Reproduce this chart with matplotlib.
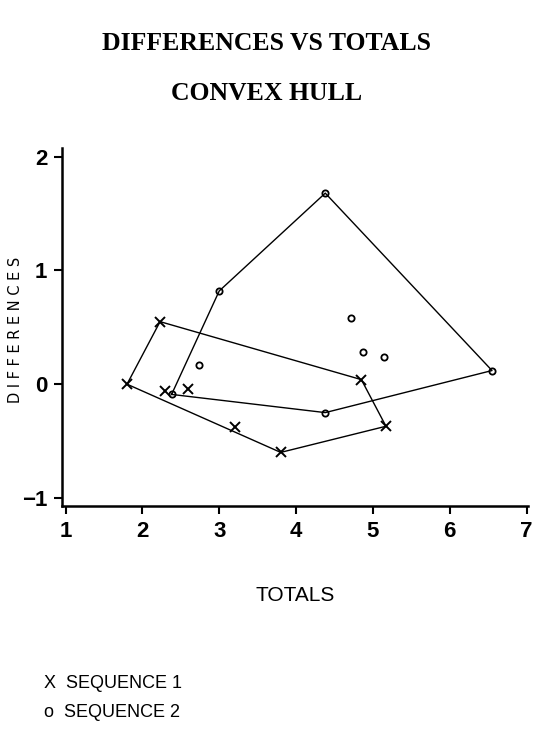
import matplotlib
matplotlib.use('Agg')
import matplotlib.pyplot as plt

# data
seq1_totals = [1.8, 2.23, 2.3, 2.59, 3.2, 3.8, 4.85, 5.17]
seq1_diffs = [0.0, 0.55, -0.06, -0.04, -0.38, -0.6, 0.04, -0.37]
seq2_totals = [2.38, 2.74, 3.0, 4.38, 4.38, 4.72, 4.87, 5.15, 6.55]
seq2_diffs = [-0.09, 0.17, 0.82, 1.68, -0.25, 0.58, 0.28, 0.24, 0.12]
x_ticks = [1, 2, 3, 4, 5, 6, 7]
y_ticks = [-1, 0, 1, 2]


def cross(o, a, b):
    return (a[0] - o[0]) * (b[1] - o[1]) - (a[1] - o[1]) * (b[0] - o[0])


def convex_hull(xs, ys):
    pts = sorted(set(zip(xs, ys)))
    lower = []
    for p in pts:
        while len(lower) >= 2 and cross(lower[-2], lower[-1], p) <= 0:
            lower.pop()
        lower.append(p)
    upper = []
    for p in reversed(pts):
        while len(upper) >= 2 and cross(upper[-2], upper[-1], p) <= 0:
            upper.pop()
        upper.append(p)
    hull = lower[:-1] + upper[:-1]
    hull.append(hull[0])
    return [p[0] for p in hull], [p[1] for p in hull]


sans = ['Liberation Sans', 'DejaVu Sans']
serif = ['Liberation Serif', 'DejaVu Serif']

fig = plt.figure(figsize=(5.34, 7.31), dpi=100)
ax = fig.add_axes([0.117, 0.308, 0.872, 0.49])

hx, hy = convex_hull(seq1_totals, seq1_diffs)
ax.plot(hx, hy, color='black', lw=1.0)
hx, hy = convex_hull(seq2_totals, seq2_diffs)
ax.plot(hx, hy, color='black', lw=1.0)

ax.plot(seq1_totals, seq1_diffs, ls='none', marker='x', ms=7.5, mew=1.4, color='black')
ax.plot(seq2_totals, seq2_diffs, ls='none', marker='o', ms=4.5, mew=1.3,
        mfc='none', mec='black')

ax.set_xlim(0.96, 7.02)
ax.set_ylim(-1.07, 2.08)
ax.set_xticks(x_ticks)
ax.set_yticks(y_ticks)
ax.set_xticklabels([str(t) for t in x_ticks], family=sans, fontsize=16, fontweight='bold')
ax.set_yticklabels([str(t).replace('-', '\u2212') for t in y_ticks], family=sans,
                   fontsize=16, fontweight='bold')
ax.tick_params(direction='out', length=6, width=1.5, pad=5)
ax.spines['top'].set_visible(False)
ax.spines['right'].set_visible(False)
ax.spines['left'].set_linewidth(1.8)
ax.spines['bottom'].set_linewidth(1.8)

ax.set_xlabel('TOTALS', family=sans, fontsize=15)
ax.xaxis.set_label_coords(0.5, -0.225)
ax.set_ylabel('D I F F E R E N C E S', family='DejaVu Sans', fontsize=10.5)
ax.yaxis.set_label_coords(-0.085, 0.49)

fig.text(0.5, 0.94, 'DIFFERENCES VS TOTALS', ha='center', va='center',
         family=serif, fontweight='bold', fontsize=18.5)
fig.text(0.5, 0.872, 'CONVEX HULL', ha='center', va='center',
         family=serif, fontweight='bold', fontsize=18.5)

fig.text(0.082, 0.065, 'X  SEQUENCE 1', family=sans, fontsize=13, va='center')
fig.text(0.082, 0.025, 'o  SEQUENCE 2', family=sans, fontsize=13, va='center')

fig.savefig('out.png', dpi=100)
